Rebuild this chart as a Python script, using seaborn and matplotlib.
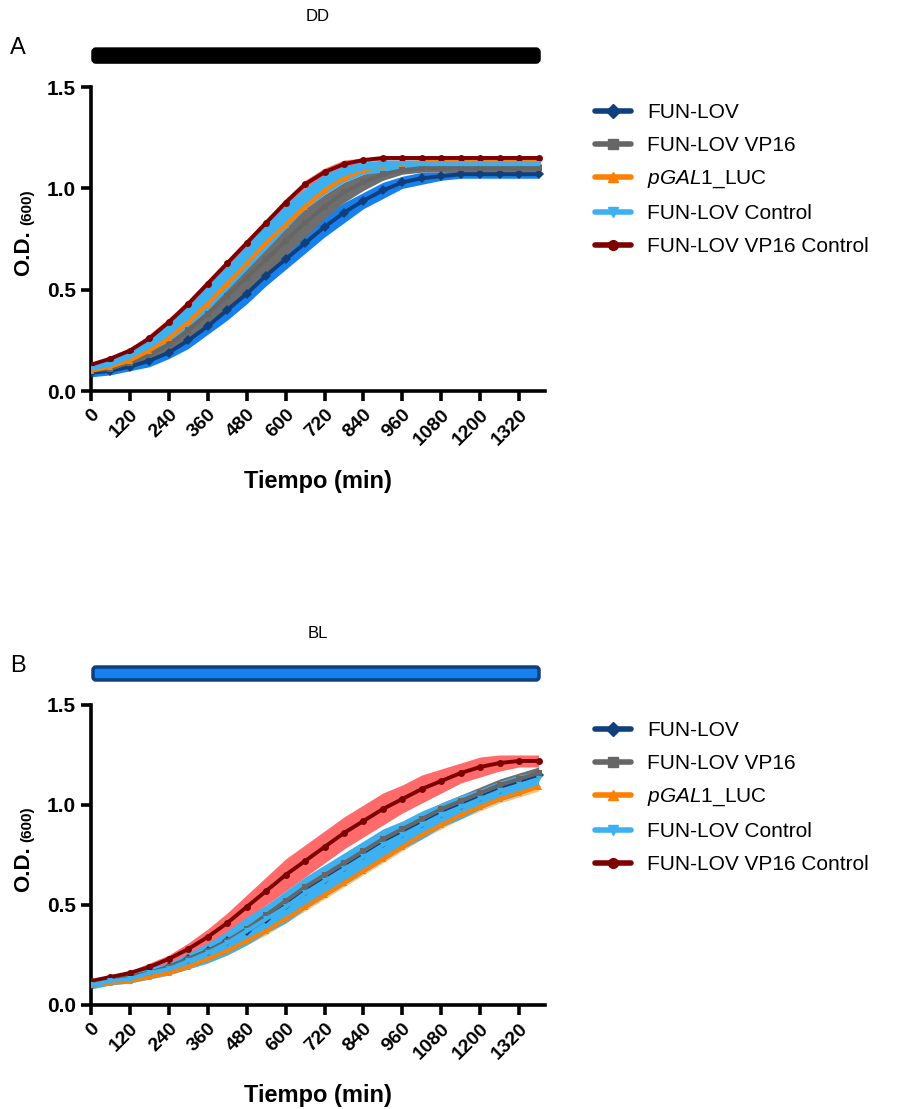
import matplotlib
matplotlib.use("Agg")
import matplotlib.pyplot as plt
from matplotlib.lines import Line2D
from matplotlib.patches import FancyBboxPatch
import seaborn as sns
import pandas as pd

sns.set_style("ticks")
plt.rcParams['font.family'] = ['Liberation Sans', 'DejaVu Sans']
plt.rcParams['mathtext.fontset'] = 'custom'
plt.rcParams['mathtext.rm'] = 'Liberation Sans'
plt.rcParams['mathtext.it'] = 'Liberation Sans:italic'
plt.rcParams['mathtext.bf'] = 'Liberation Sans:bold'
plt.rcParams['text.color'] = 'black'
plt.rcParams['axes.labelcolor'] = 'black'
plt.rcParams['axes.edgecolor'] = 'black'
plt.rcParams['xtick.color'] = 'black'
plt.rcParams['ytick.color'] = 'black'

# time points (min)
time = [0, 60, 120, 180, 240, 300, 360, 420, 480, 540, 600, 660,
        720, 780, 840, 900, 960, 1020, 1080, 1140, 1200, 1260, 1320, 1380]

series = ["FUN-LOV", "FUN-LOV VP16", "$\\mathit{pGAL1}$_LUC",
          "FUN-LOV Control", "FUN-LOV VP16 Control"]

# ---- panel A (DD): mean O.D.600 and SD ----
dd_funlov = [0.09, 0.10, 0.12, 0.15, 0.19, 0.25, 0.32, 0.40, 0.48, 0.57, 0.65, 0.73,
             0.81, 0.88, 0.94, 0.99, 1.03, 1.05, 1.06, 1.07, 1.07, 1.07, 1.07, 1.07]
dd_funlov_sd = [0.02, 0.02, 0.02, 0.03, 0.03, 0.04, 0.04, 0.05, 0.05, 0.05, 0.05, 0.05,
                0.05, 0.05, 0.04, 0.04, 0.03, 0.03, 0.02, 0.02, 0.02, 0.02, 0.02, 0.02]
dd_vp16 = [0.10, 0.11, 0.14, 0.18, 0.23, 0.30, 0.38, 0.47, 0.56, 0.65, 0.74, 0.83,
           0.91, 0.98, 1.03, 1.07, 1.09, 1.10, 1.10, 1.10, 1.10, 1.10, 1.10, 1.10]
dd_vp16_sd = [0.01, 0.01, 0.02, 0.03, 0.04, 0.05, 0.06, 0.06, 0.07, 0.07, 0.07, 0.07,
              0.06, 0.05, 0.04, 0.03, 0.02, 0.02, 0.02, 0.02, 0.02, 0.02, 0.02, 0.02]
dd_gal = [0.10, 0.12, 0.15, 0.20, 0.26, 0.34, 0.43, 0.53, 0.63, 0.73, 0.82, 0.91,
          0.99, 1.05, 1.09, 1.11, 1.12, 1.13, 1.13, 1.13, 1.13, 1.13, 1.13, 1.13]
dd_gal_sd = [0.01, 0.01, 0.01, 0.01, 0.01, 0.01, 0.01, 0.01, 0.01, 0.01, 0.01, 0.01,
             0.01, 0.01, 0.01, 0.01, 0.01, 0.01, 0.01, 0.01, 0.01, 0.01, 0.01, 0.01]
dd_ctrl = [0.11, 0.13, 0.17, 0.22, 0.29, 0.37, 0.46, 0.56, 0.66, 0.76, 0.86, 0.95,
           1.02, 1.07, 1.10, 1.11, 1.12, 1.12, 1.12, 1.12, 1.12, 1.12, 1.12, 1.12]
dd_ctrl_sd = [0.02, 0.03, 0.03, 0.04, 0.05, 0.05, 0.06, 0.06, 0.06, 0.06, 0.06, 0.05,
              0.05, 0.04, 0.03, 0.03, 0.02, 0.02, 0.02, 0.02, 0.02, 0.02, 0.02, 0.02]
dd_vp16ctrl = [0.13, 0.16, 0.20, 0.26, 0.34, 0.43, 0.53, 0.63, 0.73, 0.83, 0.93, 1.02,
               1.08, 1.12, 1.14, 1.15, 1.15, 1.15, 1.15, 1.15, 1.15, 1.15, 1.15, 1.15]
dd_vp16ctrl_sd = [0.01, 0.01, 0.01, 0.02, 0.02, 0.02, 0.02, 0.02, 0.02, 0.02, 0.02, 0.02,
                  0.02, 0.02, 0.01, 0.01, 0.01, 0.01, 0.01, 0.01, 0.01, 0.01, 0.01, 0.01]

# ---- panel B (BL) ----
bl_funlov = [0.10, 0.12, 0.14, 0.16, 0.19, 0.23, 0.27, 0.32, 0.37, 0.43, 0.50, 0.57,
             0.63, 0.69, 0.75, 0.81, 0.86, 0.91, 0.96, 1.00, 1.04, 1.08, 1.12, 1.15]
bl_funlov_sd = [0.01, 0.01, 0.01, 0.02, 0.02, 0.02, 0.03, 0.03, 0.03, 0.04, 0.04, 0.04,
                0.04, 0.04, 0.04, 0.04, 0.04, 0.04, 0.04, 0.04, 0.04, 0.03, 0.03, 0.03]
bl_vp16 = [0.10, 0.12, 0.14, 0.16, 0.19, 0.23, 0.27, 0.32, 0.38, 0.45, 0.52, 0.59,
           0.65, 0.71, 0.77, 0.83, 0.88, 0.93, 0.98, 1.02, 1.06, 1.10, 1.13, 1.16]
bl_vp16_sd = [0.01, 0.01, 0.01, 0.01, 0.02, 0.02, 0.02, 0.02, 0.02, 0.03, 0.03, 0.03,
              0.03, 0.03, 0.03, 0.03, 0.03, 0.03, 0.03, 0.03, 0.03, 0.03, 0.03, 0.03]
bl_gal = [0.10, 0.11, 0.12, 0.14, 0.16, 0.19, 0.23, 0.27, 0.32, 0.37, 0.43, 0.49,
          0.55, 0.61, 0.67, 0.73, 0.79, 0.85, 0.90, 0.95, 0.99, 1.03, 1.06, 1.09]
bl_gal_sd = [0.01, 0.01, 0.01, 0.01, 0.01, 0.01, 0.01, 0.02, 0.02, 0.02, 0.02, 0.02,
             0.02, 0.02, 0.02, 0.02, 0.02, 0.02, 0.02, 0.02, 0.02, 0.02, 0.02, 0.02]
bl_ctrl = [0.10, 0.12, 0.13, 0.16, 0.18, 0.22, 0.26, 0.31, 0.37, 0.43, 0.49, 0.56,
           0.62, 0.68, 0.74, 0.80, 0.85, 0.90, 0.95, 0.99, 1.03, 1.07, 1.10, 1.13]
bl_ctrl_sd = [0.02, 0.02, 0.02, 0.03, 0.03, 0.04, 0.05, 0.06, 0.07, 0.07, 0.08, 0.08,
              0.08, 0.08, 0.08, 0.08, 0.07, 0.07, 0.06, 0.06, 0.05, 0.05, 0.05, 0.04]
bl_vp16ctrl = [0.12, 0.14, 0.16, 0.19, 0.23, 0.28, 0.34, 0.41, 0.49, 0.57, 0.65, 0.72,
               0.79, 0.86, 0.92, 0.98, 1.03, 1.08, 1.12, 1.16, 1.19, 1.21, 1.22, 1.22]
bl_vp16ctrl_sd = [0.01, 0.01, 0.01, 0.02, 0.02, 0.03, 0.04, 0.05, 0.06, 0.07, 0.08, 0.08,
                  0.08, 0.08, 0.08, 0.08, 0.07, 0.07, 0.06, 0.05, 0.05, 0.04, 0.03, 0.03]

line_colors = ["#0f3f7c", "#666666", "#ff7f00", "#3db0ef", "#7d0000"]
band_colors = ["#1680ee", "#6e6e6e", "#ffc27a", "#3db0ef", "#ff6a6a"]
markers = ["D", "s", "^", "v", "o"]
draw_order = [0, 1, 2, 4, 3]

panels = [
    ("DD", "A", [dd_funlov, dd_vp16, dd_gal, dd_ctrl, dd_vp16ctrl],
     [dd_funlov_sd, dd_vp16_sd, dd_gal_sd, dd_ctrl_sd, dd_vp16ctrl_sd],
     [0.100, 0.6474, 0.499, 0.2741], "#000000", "#000000"),
    ("BL", "B", [bl_funlov, bl_vp16, bl_gal, bl_ctrl, bl_vp16ctrl],
     [bl_funlov_sd, bl_vp16_sd, bl_gal_sd, bl_ctrl_sd, bl_vp16ctrl_sd],
     [0.100, 0.0938, 0.499, 0.2705], "#1680ee", "#0f3f7c"),
]

fig = plt.figure(figsize=(9.1, 11.09), dpi=100)

for cond, letter, means, sds, rect, barcol, baredge in panels:
    ax = fig.add_axes(rect)
    for i in draw_order:
        df = pd.DataFrame({"t": time, "od": means[i], "sd": sds[i]})
        ax.fill_between(df["t"], df["od"] - df["sd"], df["od"] + df["sd"],
                        color=band_colors[i], lw=0, zorder=2)
        sns.lineplot(data=df, x="t", y="od", ax=ax, color=line_colors[i],
                     marker=markers[i], markersize=5, markeredgewidth=0,
                     linewidth=2.8, zorder=3)
    ax.set_xlim(0, 1400)
    ax.set_ylim(0, 1.5)
    ax.set_xticks(range(0, 1321, 120))
    ax.set_yticks([0, 0.5, 1.0, 1.5])
    ax.set_yticklabels(["0.0", "0.5", "1.0", "1.5"])
    ax.set_xticklabels([str(v) for v in range(0, 1321, 120)], rotation=45,
                       ha="right", va="top", rotation_mode="anchor")
    for lab in ax.get_xticklabels() + ax.get_yticklabels():
        lab.set_fontweight("bold")
    ax.tick_params(axis="both", width=2.6, length=7, labelsize=15, pad=4)
    ax.tick_params(axis="x", labelsize=14, pad=4)
    for s in ["left", "bottom"]:
        ax.spines[s].set_linewidth(2.6)
    sns.despine(ax=ax)
    ax.set_xlabel("Tiempo (min)", fontsize=17, fontweight="bold", labelpad=15,
                  color="black")
    ax.set_ylabel("")

    # O.D. label with subscript-like (600)
    pos = ax.get_position()
    ymid = pos.y0 + pos.height * 0.53
    fig.text(0.026, ymid, "O.D.", rotation=90, fontsize=16, fontweight="bold",
             ha="center", va="top")
    fig.text(0.030, ymid + 0.004, "(600)", rotation=90, fontsize=11,
             fontweight="bold", ha="center", va="bottom")

    # condition bar
    top_px = pos.y1 * 1109
    bar = FancyBboxPatch((0.93, (top_px + 25) / 100), 4.46, 0.13,
                         boxstyle="round,pad=0,rounding_size=0.03",
                         transform=fig.dpi_scale_trans, facecolor=barcol,
                         edgecolor=baredge, linewidth=2.5)
    fig.patches.append(bar)
    fig.text(3.18 / 9.1, (top_px + 71) / 1109, cond, fontsize=12,
             ha="center", va="center")
    fig.text(0.02, (top_px + 39) / 1109, letter, fontsize=17,
             ha="center", va="center")

    handles = [Line2D([], [], color=line_colors[i], marker=markers[i],
                      markersize=7, linewidth=4, solid_capstyle="round")
               for i in range(5)]
    fig.legend(handles, series, loc="upper left", frameon=False,
               bbox_to_anchor=(0.654, (top_px - 16) / 1109),
               fontsize=15, handlelength=1.7, handletextpad=0.8,
               labelspacing=0.67, borderpad=0, borderaxespad=0)

fig.savefig("out.png", dpi=100)
